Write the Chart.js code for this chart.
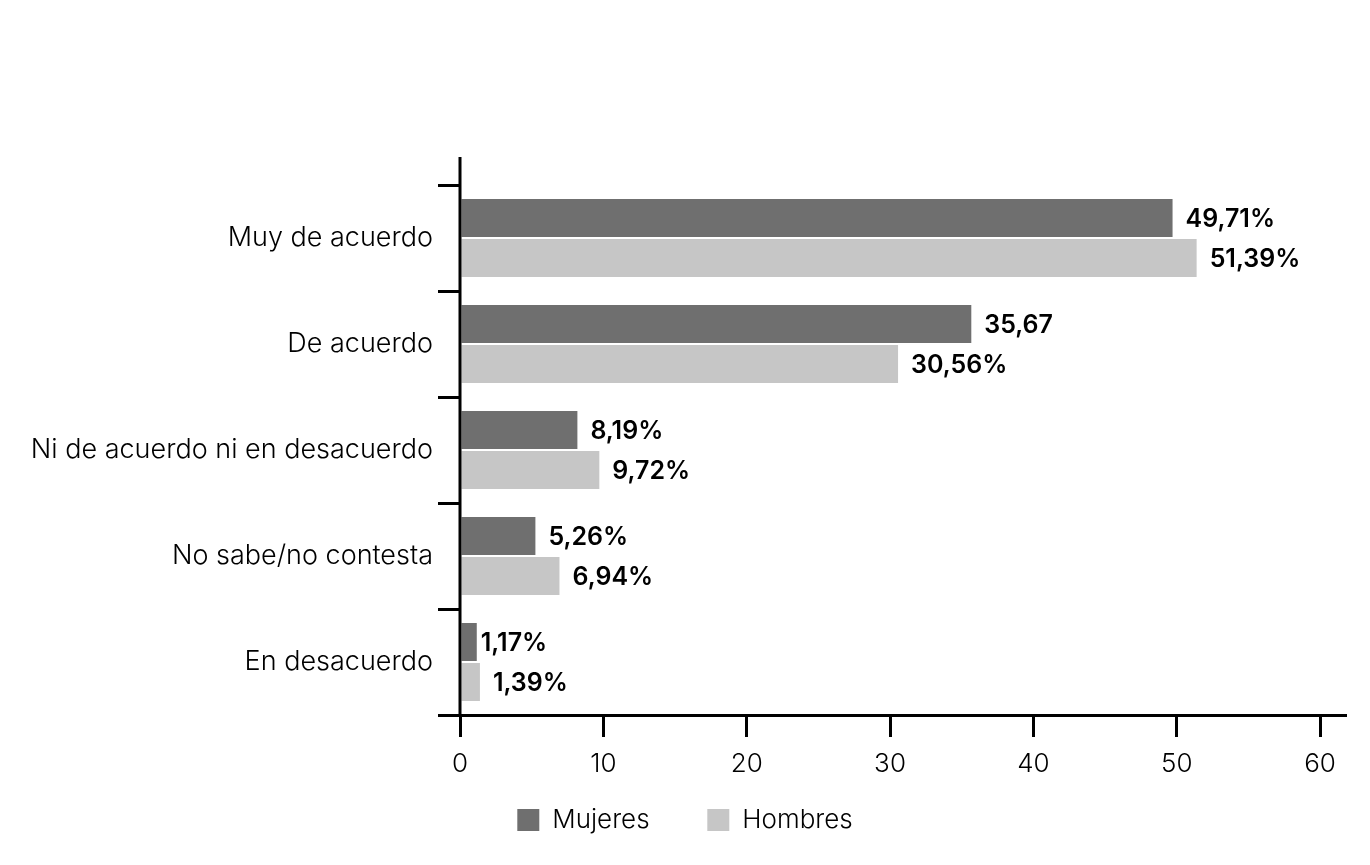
<!DOCTYPE html>
<html>
<head>
<meta charset="utf-8">
<style>
html,body{margin:0;padding:0;background:#fff;}
#wrap{width:1370px;height:865px;position:relative;}
</style>
<script src="https://cdn.jsdelivr.net/npm/chart.js@4.4.1/dist/chart.umd.min.js"></script>
</head>
<body>
<div id="wrap"><canvas id="c" width="1370" height="865"></canvas></div>
<script>
const categories = ["Muy de acuerdo", "De acuerdo", "Ni de acuerdo ni en desacuerdo", "No sabe/no contesta", "En desacuerdo"];
const mujeres = [49.71, 35.67, 8.19, 5.26, 1.17];
const hombres = [51.39, 30.56, 9.72, 6.94, 1.39];
const mujeresLabels = ["49,71%", "35,67", "8,19%", "5,26%", "1,17%"];
const hombresLabels = ["51,39%", "30,56%", "9,72%", "6,94%", "1,39%"];
const xTicks = [0, 10, 20, 30, 40, 50, 60];

const FONT = "Inter, 'Open Sans', Lato, sans-serif";

const valueLabels = {
  id: 'valueLabels',
  afterDatasetsDraw(chart) {
    const ctx = chart.ctx;
    ctx.save();
    ctx.font = "600 25px " + FONT;
    ctx.fillStyle = "#000";
    ctx.textAlign = "left";
    ctx.textBaseline = "middle";
    const sets = [mujeresLabels, hombresLabels];
    chart.data.datasets.forEach((ds, di) => {
      const meta = chart.getDatasetMeta(di);
      meta.data.forEach((el, i) => {
        const off = (di === 0 && i === 4) ? 4 : 13;
        ctx.fillText(sets[di][i], el.x + off, el.y + 1);
      });
    });
    ctx.restore();
  }
};

const yAxisLine = {
  id: 'yAxisLine',
  afterDraw(chart) {
    const ctx = chart.ctx;
    const x = chart.scales.x.getPixelForValue(0);
    const a = chart.chartArea;
    ctx.save();
    ctx.strokeStyle = "#000";
    ctx.lineWidth = 3;
    ctx.beginPath();
    ctx.moveTo(x, a.top - 28);
    ctx.lineTo(x, a.bottom);
    ctx.stroke();
    ctx.restore();
  }
};

new Chart(document.getElementById('c'), {
  type: 'bar',
  data: {
    labels: categories,
    datasets: [
      { label: 'Mujeres', data: mujeres, backgroundColor: '#6f6f6f', barPercentage: 0.95, categoryPercentage: 0.755 },
      { label: 'Hombres', data: hombres, backgroundColor: '#c6c6c6', barPercentage: 0.95, categoryPercentage: 0.755 }
    ]
  },
  options: {
    indexAxis: 'y',
    responsive: false,
    animation: false,
    layout: { padding: { left: 0, right: 0, top: 185, bottom: 22 } },
    plugins: {
      legend: {
        position: 'bottom',
        labels: {
          font: { family: FONT, size: 26, weight: 300 },
          color: '#000',
          boxWidth: 22,
          boxHeight: 22,
          padding: 27,
          generateLabels(chart) {
            return chart.data.datasets.map((ds, i) => ({
              text: i === 0 ? ds.label + '\u2003\u2009' : ds.label,
              fillStyle: ds.backgroundColor, strokeStyle: ds.backgroundColor,
              lineWidth: 0, datasetIndex: i, fontColor: '#000'
            }));
          }
        }
      },
      tooltip: { enabled: false }
    },
    scales: {
      x: {
        type: 'linear',
        min: 0,
        max: 61.74,
        afterBuildTicks(scale) { scale.ticks = xTicks.map(v => ({ value: v })); },
        afterFit(scale) { scale.height = 65; },
        border: { display: true, color: '#000', width: 3 },
        grid: { display: true, drawOnChartArea: false, drawTicks: true, tickLength: 22, color: '#000', lineWidth: 3 },
        ticks: { color: '#000', font: { family: FONT, size: 26, weight: 300 }, padding: 12, maxRotation: 0 }
      },
      y: {
        type: 'category',
        afterFit(scale) { scale.width = 460; },
        border: { display: false },
        grid: { display: true, offset: true, drawOnChartArea: false, drawTicks: true, tickLength: 22, color: '#000', lineWidth: 3 },
        ticks: { color: '#000', font: { family: FONT, size: 27, weight: 300 }, padding: 5 }
      },
      yRight: {
        type: 'category',
        position: 'right',
        afterFit(scale) { scale.width = 25; },
        border: { display: false },
        grid: { display: false },
        ticks: { display: false }
      }
    }
  },
  plugins: [valueLabels, yAxisLine]
});
</script>
</body>
</html>
